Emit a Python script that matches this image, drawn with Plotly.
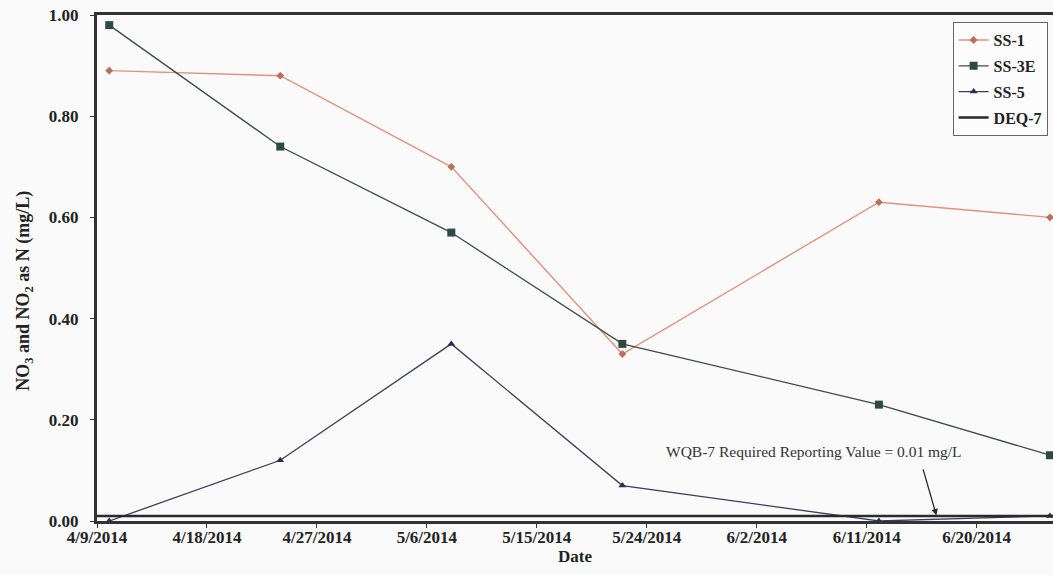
import plotly.graph_objects as go

# Sampling dates and nitrate+nitrite results (mg/L as N)
dates = ["2014-04-10", "2014-04-24", "2014-05-08", "2014-05-22", "2014-06-12", "2014-06-26"]
ss1 = [0.89, 0.88, 0.70, 0.33, 0.63, 0.60]
ss3e = [0.98, 0.74, 0.57, 0.35, 0.23, 0.13]
ss5 = [0.00, 0.12, 0.35, 0.07, 0.00, 0.01]

# DEQ-7 required reporting value, drawn across the whole period
deq7_dates = ["2014-04-09", "2014-06-26 06:00"]
deq7 = [0.01, 0.01]

y_ticks = [0.0, 0.2, 0.4, 0.6, 0.8, 1.0]

SERIF = "Liberation Serif, Times New Roman, serif"
INK = "#222222"
FRAME = "#333333"
BG = "#fafafa"

fig = go.Figure()

fig.add_trace(go.Scatter(
    x=dates, y=ss1, name="SS-1", mode="lines+markers", legendgroup="a",
    line=dict(color="#e0937a", width=1.4),
    marker=dict(symbol="diamond", size=6, color="#b8705a"),
))
fig.add_trace(go.Scatter(
    x=dates, y=ss3e, name="SS-3E", mode="lines+markers", legendgroup="b",
    line=dict(color="#3e4a48", width=1.3),
    marker=dict(symbol="square", size=8, color="#2f4a42"),
))
fig.add_trace(go.Scatter(
    x=dates, y=ss5, name="SS-5", mode="lines+markers", legendgroup="c",
    line=dict(color="#3a3d5c", width=1.3),
    marker=dict(symbol="triangle-up", size=7, color="#2c2f55"),
))
fig.add_trace(go.Scatter(
    x=deq7_dates, y=deq7, name="DEQ-7", mode="lines", legendgroup="d",
    line=dict(color="#2a2a2a", width=2.5),
))

# Reporting value note with its pointer arrow
fig.add_annotation(
    x="2014-06-06 16:00", y=0.137, xref="x", yref="y",
    text="WQB-7 Required Reporting Value = 0.01 mg/L",
    showarrow=False,
    font=dict(family=SERIF, size=15.5, color="#333333"),
)
fig.add_annotation(
    x="2014-06-16 17:00", y=0.011, xref="x", yref="y",
    ax="2014-06-15 14:00", ay=0.105, axref="x", ayref="y",
    text="", showarrow=True,
    arrowhead=2, arrowsize=1, arrowwidth=1.3, arrowcolor="#2a2a2a",
)

# Vertical y-axis title
fig.add_annotation(
    x=-0.0753, y=0.455, xref="paper", yref="paper",
    xanchor="center", yanchor="middle", textangle=-90,
    text="<b>NO<sub>3</sub> and NO<sub>2</sub> as N (mg/L)</b>",
    showarrow=False,
    font=dict(family=SERIF, size=18, color=INK),
)

fig.update_xaxes(
    type="date",
    range=["2014-04-09", "2014-06-26 06:00"],
    tick0="2014-04-09", dtick=9 * 86400000,
    tickformat="%-m/%-d/%Y",
    ticks="outside", ticklen=4, tickcolor=FRAME, tickwidth=1,
    ticklabelstandoff=-5,
    showline=True, linecolor=FRAME, linewidth=3, mirror=True,
    showgrid=False, zeroline=False,
    tickfont=dict(family=SERIF, size=17, color=INK, weight="bold"),
    title=dict(text="<b>Date</b>", font=dict(family=SERIF, size=17, color=INK), standoff=2),
)
fig.update_yaxes(
    range=[0, 1.0],
    tickvals=y_ticks, tickformat=".2f",
    ticks="outside", ticklen=4, tickcolor=FRAME, tickwidth=1,
    ticklabelstandoff=8,
    showline=True, linecolor=FRAME, linewidth=3,
    showgrid=False, zeroline=False,
    tickfont=dict(family=SERIF, size=17, color=INK, weight="bold"),
)

fig.update_layout(
    width=1053, height=575,
    margin=dict(l=97, r=0, t=15, b=54),
    paper_bgcolor=BG, plot_bgcolor=BG,
    showlegend=True,
    legend=dict(
        x=0.895, y=0.986, xanchor="left", yanchor="top",
        bgcolor="#fcfcfc", bordercolor="#666666", borderwidth=1,
        font=dict(family=SERIF, size=16, color=INK, weight="bold"),
        itemwidth=30, tracegroupgap=2,
    ),
)

fig.write_html("out.html")
